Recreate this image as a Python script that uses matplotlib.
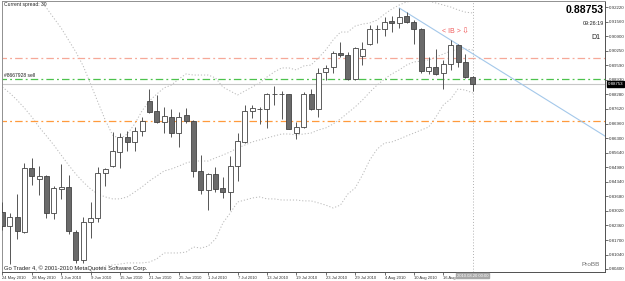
import numpy as np
import matplotlib
matplotlib.use("Agg")
import matplotlib.pyplot as plt
import matplotlib.transforms as mtransforms

plt.rcParams['font.family'] = ['Liberation Sans', 'DejaVu Sans']

# daily bars, 24 May 2010 .. 20 Aug 2010
opens = [0.82968, 0.82337, 0.82743, 0.82066, 0.84954, 0.84458, 0.84593, 0.82923, 0.84006, 0.84097,
         0.82066, 0.80802, 0.82517, 0.82698, 0.84728, 0.85044, 0.85676, 0.86353, 0.86128, 0.86624,
         0.87978, 0.87527, 0.87030, 0.87256, 0.86534, 0.87346, 0.87075, 0.84819, 0.83961, 0.84683,
         0.84052, 0.83871, 0.85044, 0.86128, 0.87527, 0.87617, 0.87617, 0.88294, 0.88294, 0.88294,
         0.86534, 0.86804, 0.88294, 0.87617, 0.89287, 0.89512, 0.90144, 0.90054, 0.88971, 0.90009,
         0.90550, 0.91227, 0.91227, 0.91588, 0.91498, 0.91814, 0.91543, 0.91227, 0.89332, 0.89512,
         0.89241, 0.89648, 0.90505, 0.89738, 0.89061]
highs = [0.83420, 0.82923, 0.83781, 0.85180, 0.85405, 0.85044, 0.84638, 0.84142, 0.85135, 0.84638,
         0.82156, 0.82743, 0.83420, 0.84999, 0.84954, 0.86579, 0.86534, 0.86624, 0.86804, 0.87256,
         0.88519, 0.88249, 0.87707, 0.87617, 0.87481, 0.87662, 0.87120, 0.85541, 0.84728, 0.84999,
         0.84548, 0.85496, 0.86534, 0.87797, 0.87797, 0.87707, 0.88339, 0.88655, 0.88429, 0.88300,
         0.87030, 0.88384, 0.88519, 0.89467, 0.89603, 0.90234, 0.90641, 0.90189, 0.90415, 0.90641,
         0.91408, 0.91408, 0.91769, 0.91814, 0.92175, 0.91994, 0.91633, 0.91272, 0.89964, 0.90325,
         0.89828, 0.90731, 0.90550, 0.90099, 0.89106]
lows = [0.82156, 0.80622, 0.81750, 0.82021, 0.84187, 0.83736, 0.82698, 0.82653, 0.83555, 0.81976,
        0.80667, 0.80667, 0.81795, 0.82517, 0.84142, 0.84999, 0.84954, 0.85721, 0.85721, 0.86398,
        0.87436, 0.86985, 0.86534, 0.86353, 0.85902, 0.86985, 0.84548, 0.83781, 0.83059, 0.83871,
        0.83600, 0.83059, 0.84367, 0.86082, 0.87211, 0.86940, 0.86759, 0.87797, 0.87166, 0.86700,
        0.86263, 0.86759, 0.87572, 0.87256, 0.88926, 0.89241, 0.89964, 0.88926, 0.88926, 0.89603,
        0.90505, 0.90595, 0.90911, 0.91092, 0.91272, 0.91498, 0.90550, 0.89241, 0.89196, 0.89151,
        0.88519, 0.89377, 0.89512, 0.89016, 0.88429]
closes = [0.82337, 0.82743, 0.82111, 0.84954, 0.84593, 0.84593, 0.82923, 0.84052, 0.84097, 0.82111,
          0.80802, 0.82517, 0.82698, 0.84728, 0.84909, 0.85721, 0.86353, 0.86128, 0.86624, 0.87075,
          0.87481, 0.87030, 0.87301, 0.86534, 0.87256, 0.87075, 0.84819, 0.83961, 0.84683, 0.84006,
          0.83871, 0.85044, 0.86173, 0.87527, 0.87662, 0.87612, 0.88294, 0.88290, 0.88298, 0.86714,
          0.86804, 0.88294, 0.87617, 0.89241, 0.89467, 0.90144, 0.90054, 0.88971, 0.90370, 0.90325,
          0.91227, 0.91220, 0.91543, 0.91498, 0.91769, 0.91543, 0.91227, 0.89332, 0.89512, 0.89196,
          0.89648, 0.90505, 0.89738, 0.89061, 0.88753]

# ProBB bands (upper starts at bar 3, lower at bar 10)
bb_upper = [0.9389, 0.9317, 0.9254, 0.9218, 0.9172, 0.9127, 0.9073, 0.9019, 0.8956, 0.8875,
            0.8793, 0.8712, 0.8644, 0.8626, 0.8649, 0.8694, 0.8753, 0.8798, 0.8829, 0.8857,
            0.8870, 0.8897, 0.8920, 0.8915, 0.8915, 0.8915, 0.8902, 0.8861, 0.8843, 0.8825,
            0.8843, 0.8861, 0.8879, 0.8906, 0.8929, 0.8947, 0.8947, 0.8938, 0.8956, 0.8960,
            0.8992, 0.9028, 0.9073, 0.9109, 0.9109, 0.9136, 0.9145, 0.9150, 0.9163, 0.9190,
            0.9213, 0.9231, 0.9245, 0.9249, 0.9249, 0.9249, 0.9240, 0.9231, 0.9222, 0.9209,
            0.9199, 0.9195]
bb_mid = [0.8861, 0.8834, 0.8802, 0.8766, 0.8726, 0.8680, 0.8640, 0.8599, 0.8554, 0.8509,
          0.8468, 0.8432, 0.8401, 0.8378, 0.8365, 0.8356, 0.8356, 0.8365, 0.8387, 0.8410,
          0.8437, 0.8459, 0.8482, 0.8491, 0.8504, 0.8518, 0.8527, 0.8527, 0.8527, 0.8541,
          0.8554, 0.8568, 0.8586, 0.8599, 0.8613, 0.8622, 0.8631, 0.8640, 0.8649, 0.8649,
          0.8644, 0.8649, 0.8653, 0.8667, 0.8676, 0.8694, 0.8717, 0.8744, 0.8771, 0.8802,
          0.8838, 0.8870, 0.8897, 0.8920, 0.8938, 0.8960, 0.8974, 0.8978, 0.8983, 0.8996,
          0.9010, 0.9023, 0.9032, 0.9032, 0.9028]
bb_lower = [0.7967, 0.7999, 0.8026, 0.8044, 0.8053, 0.8058, 0.8062, 0.8067, 0.8067, 0.8067,
            0.8071, 0.8085, 0.8112, 0.8112, 0.8112, 0.8116, 0.8139, 0.8134, 0.8143, 0.8175,
            0.8247, 0.8292, 0.8342, 0.8351, 0.8360, 0.8365, 0.8356, 0.8356, 0.8351, 0.8351,
            0.8351, 0.8347, 0.8347, 0.8338, 0.8328, 0.8315, 0.8328, 0.8378, 0.8405, 0.8464,
            0.8532, 0.8581, 0.8608, 0.8613, 0.8626, 0.8640, 0.8653, 0.8667, 0.8680, 0.8726,
            0.8780, 0.8807, 0.8852, 0.8847, 0.8834]

date_labels = ["24 May 2010", "28 May 2010", "3 Jun 2010", "9 Jun 2010", "15 Jun 2010",
               "21 Jun 2010", "25 Jun 2010", "1 Jul 2010", "7 Jul 2010", "13 Jul 2010",
               "19 Jul 2010", "23 Jul 2010", "29 Jul 2010", "4 Aug 2010", "10 Aug 2010",
               "16 Aug 2010"]
price_labels = ["0.92220", "0.91560", "0.90900", "0.90250", "0.89590", "0.88930", "0.88280",
                "0.87620", "0.86960", "0.86300", "0.85640", "0.84980", "0.84340", "0.83680",
                "0.83020", "0.82360", "0.81700", "0.81040", "0.80400"]

level_pink = 0.89918
level_sell = 0.88971
level_orange = 0.87098
trend_x = [54, 82]
trend_y = [0.92175, 0.86395]

o = np.array(opens); h = np.array(highs); l = np.array(lows); c = np.array(closes)
x = np.arange(len(o))

fig = plt.figure(figsize=(6.25, 2.81), dpi=100)
ax = fig.add_axes([2 / 625, 1 - 272 / 281, 603 / 625, 271 / 281])
ax.set_xlim(-0.05, 82.0)
ax.set_ylim(0.80261, 0.92491)

# bands
dots = (0, (1.2, 2.0))
ax.plot(np.arange(3, 3 + len(bb_upper)), bb_upper, color='#b8b8b8', lw=0.7, ls=dots, zorder=1)
ax.plot(np.arange(len(bb_mid)), bb_mid, color='#b8b8b8', lw=0.7, ls=dots, zorder=1)
ax.plot(np.arange(10, 10 + len(bb_lower)), bb_lower, color='#b8b8b8', lw=0.7, ls=dots, zorder=1)

# levels
dashdot = (0, (6, 2.5, 1.5, 2.5))
xr = [-1, 83]
ax.plot(xr, [level_pink] * 2, color='#f6a898', lw=0.9, ls=dashdot, zorder=1)
ax.plot(xr, [level_sell] * 2, color='#4cc24c', lw=0.9, ls=dashdot, zorder=1)
ax.plot(xr, [closes[-1]] * 2, color='#c8c8c8', lw=0.8, zorder=1)
ax.plot(xr, [level_orange] * 2, color='#ff9a3c', lw=0.9, ls=dashdot, zorder=1)
ax.axvline(64, color='#b0b0b0', lw=0.7, ls=(0, (1, 2)), zorder=1)
ax.plot(trend_x, trend_y, color='#a4c8ea', lw=0.8, zorder=2)

# candles
ax.vlines(x, l, h, color='#555555', lw=0.7, zorder=3)
bull = c >= o
ax.bar(x, np.abs(c - o), bottom=np.minimum(o, c), width=0.68,
       color=np.where(bull, 'white', '#6a6a6a'), edgecolor='#444444', linewidth=0.6, zorder=4)

# axes styling
for s in ['left', 'top']:
    ax.spines[s].set_color('#909090')
    ax.spines[s].set_linewidth(0.7)
for s in ['right', 'bottom']:
    ax.spines[s].set_color('#505050')
    ax.spines[s].set_linewidth(0.7)

ax.yaxis.tick_right()
yt = [float(v) for v in price_labels]
ax.set_yticks(yt)
ax.set_yticklabels(price_labels, fontsize=3.2, color='#333333')
ax.set_xticks(np.arange(0, 61, 4))
ax.set_xticklabels(date_labels, fontsize=3.0, color='#333333', ha='left')
ax.tick_params(axis='both', length=2, width=0.5, pad=1, colors='#333333')

trans_y = mtransforms.blended_transform_factory(ax.transAxes, ax.transData)
trans_x = mtransforms.blended_transform_factory(ax.transData, ax.transAxes)

ax.text(1.004, closes[-1], "0.88753", transform=trans_y, ha='left', va='center',
        fontsize=3.2, color='white', zorder=10,
        bbox=dict(boxstyle='square,pad=0.2', fc='black', ec='black'))
ax.text(64, -0.006, "2010.08.20 00:00", transform=trans_x, ha='center', va='top',
        fontsize=3.0, color='white', zorder=10, clip_on=False,
        bbox=dict(boxstyle='square,pad=0.2', fc='#a8a8a8', ec='#a8a8a8'))

ax.text(0.004, 0.995, "Current spread: 30", transform=ax.transAxes, ha='left', va='top',
        fontsize=3.6, color='#222222')
ax.text(0.004, level_sell + 0.0006, "#8667928 sell", transform=trans_y, ha='left', va='bottom',
        fontsize=3.6, color='#222222')
ax.text(0.004, 0.005, "Go Trader 4, \u00a9 2001-2010 MetaQuotes Software Corp.",
        transform=ax.transAxes, ha='left', va='bottom', fontsize=4.2, color='#222222')
ax.text(0.998, 0.985, "0.88753", transform=ax.transAxes, ha='right', va='top',
        fontsize=7.6, fontweight='bold', color='black')
ax.text(0.998, 0.925, "09:26:19", transform=ax.transAxes, ha='right', va='top',
        fontsize=4.0, color='#222222')
ax.text(0.992, 0.88, "D1", transform=ax.transAxes, ha='right', va='top',
        fontsize=5.0, color='#222222')
ax.text(0.992, 0.02, "ProBB", transform=ax.transAxes, ha='right', va='bottom',
        fontsize=4.6, color='#707070')
ax.text(61.1, 0.9113, "< IB >", ha='center', va='center', fontsize=5.0, color='#f05a5a')
ax.text(63.0, 0.9113, "\u21e9", ha='center', va='center', fontsize=6.0, color='#f05a5a',
        family='DejaVu Sans')

fig.savefig("out.png", dpi=100)
